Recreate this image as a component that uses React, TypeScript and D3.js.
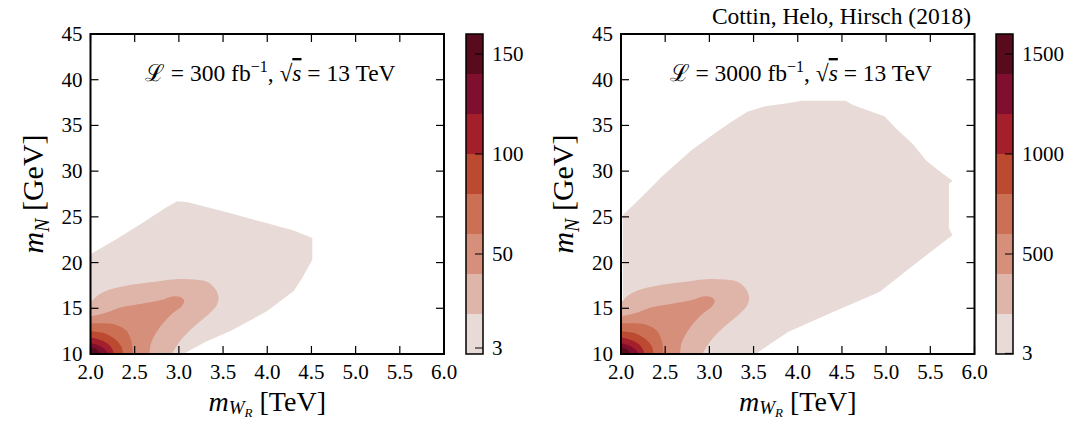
import React from 'react';
import * as d3 from 'd3';

const W = 1069;
const H = 422;

const xTicks = [2.0, 2.5, 3.0, 3.5, 4.0, 4.5, 5.0, 5.5, 6.0];
const yTicks = [10, 15, 20, 25, 30, 35, 40, 45];

// filled contour colours, lowest band first
const bandColors = ['#e8dbd7', '#dfb5a9', '#d68f7b', '#cb7054', '#bb4a31', '#a21f2b', '#800e2e', '#570b1d'];
const levelsLow = [0, 20, 40, 60, 80, 100, 120, 140, 160];
const levelsHigh = [0, 200, 400, 600, 800, 1000, 1200, 1400, 1600];
const cbarTicksLow = [3, 50, 100, 150];
const cbarTicksHigh = [3, 500, 1000, 1500];

type Pt = [number, number]; // [m_WR in TeV, m_N in GeV]

// outermost band, traced clockwise from the left axis
const outerLow: Pt[] = [
  [2.0, 20.9], [2.3, 22.6], [2.6, 24.4], [2.85, 26.0], [2.98, 26.7], [3.1, 26.6],
  [3.5, 25.6], [4.0, 24.3], [4.3, 23.5], [4.51, 22.7], [4.51, 20.3], [4.4, 18.4],
  [4.3, 16.9], [4.0, 14.7], [3.6, 12.6], [3.3, 11.3], [3.05, 10.0], [2.0, 10.0],
];
const outerHigh: Pt[] = [
  [2.02, 15.0], [2.02, 25.2], [2.12, 26.1], [2.35, 28.3], [2.46, 29.4], [2.8, 32.3],
  [3.07, 34.2], [3.25, 35.4], [3.43, 36.5], [3.63, 37.1], [3.86, 37.4], [4.05, 37.7],
  [4.54, 37.7], [4.63, 37.2], [4.98, 36.0], [5.13, 34.5], [5.3, 33.0], [5.45, 31.2],
  [5.59, 30.1], [5.75, 28.95], [5.71, 28.6], [5.71, 23.8], [5.75, 23.0], [5.24, 19.2],
  [4.93, 16.8], [4.4, 14.6], [3.89, 12.4], [3.52, 10.0], [2.0, 10.0], [2.0, 15.0],
];

// inner bands (same shape in both panels), from the left axis round to the bottom axis
const band2: Pt[] = [
  [2.0, 15.6], [2.08, 16.4], [2.2, 17.0], [2.42, 17.5], [2.73, 17.9], [2.99, 18.2],
  [3.18, 18.15], [3.33, 17.85], [3.42, 17.0], [3.45, 16.1], [3.42, 15.2], [3.33, 14.3],
  [3.16, 12.9], [3.02, 11.5], [2.92, 10.0],
];
const band3: Pt[] = [
  [2.0, 14.1], [2.2, 14.6], [2.35, 15.1], [2.58, 15.5], [2.8, 15.9], [2.93, 16.3],
  [3.01, 16.25], [3.06, 15.85], [3.03, 15.2], [2.93, 14.45], [2.82, 13.35], [2.73, 12.1],
  [2.68, 11.0], [2.67, 10.0],
];
const band4: Pt[] = [
  [2.0, 13.35], [2.16, 13.35], [2.3, 13.15], [2.4, 12.6], [2.45, 11.8], [2.47, 10.9], [2.48, 10.0],
];
const band5: Pt[] = [
  [2.0, 12.5], [2.15, 12.3], [2.28, 11.6], [2.35, 10.8], [2.37, 10.0],
];
const band6: Pt[] = [
  [2.0, 11.8], [2.12, 11.5], [2.22, 10.9], [2.27, 10.0],
];
const band7: Pt[] = [
  [2.0, 11.2], [2.1, 10.9], [2.17, 10.4], [2.2, 10.0],
];
const band8: Pt[] = [
  [2.0, 10.7], [2.07, 10.5], [2.11, 10.0],
];
const innerBands = [band2, band3, band4, band5, band6, band7, band8];

const FONT = "'Liberation Serif', 'DejaVu Serif', serif";

const plotTop = 34;
const plotBottom = 354;
const plotW = 353.5;

type PanelProps = {
  x0: number;
  cbarX: number;
  outer: Pt[];
  levels: number[];
  cbarTicks: number[];
  lumi: string;
  id: string;
};

const Panel = ({ x0, cbarX, outer, levels, cbarTicks, lumi, id }: PanelProps) => {
  const x = d3.scaleLinear().domain([2, 6]).range([x0, x0 + plotW]);
  const y = d3.scaleLinear().domain([10, 45]).range([plotBottom, plotTop]);
  const cy = d3.scaleLinear().domain([levels[0], levels[levels.length - 1]]).range([plotBottom, plotTop]);

  const outerLine = d3.line<Pt>().x(d => x(d[0])).y(d => y(d[1])).curve(d3.curveLinear);
  const innerLine = d3.line<Pt>().x(d => x(d[0])).y(d => y(d[1])).curve(d3.curveCatmullRom.alpha(0.5));
  const innerPath = (pts: Pt[]) => innerLine(pts) + `L${x(2)},${y(10)}Z`;

  const tick = 8;
  const cx = x0 + plotW / 2;

  return (
    <g>
      <defs>
        <clipPath id={id}>
          <rect x={x(2)} y={y(45)} width={plotW} height={plotBottom - plotTop} />
        </clipPath>
      </defs>
      <g clipPath={`url(#${id})`}>
        <path d={outerLine(outer) + 'Z'} fill={bandColors[0]} />
        {innerBands.map((b, i) => (
          <path key={i} d={innerPath(b)} fill={bandColors[i + 1]} />
        ))}
      </g>

      {/* ticks, inside on all four sides */}
      {xTicks.map(t => (
        <g key={'x' + t}>
          <line x1={x(t)} x2={x(t)} y1={plotBottom} y2={plotBottom - tick} stroke="#000" strokeWidth={1.2} />
          <line x1={x(t)} x2={x(t)} y1={plotTop} y2={plotTop + tick} stroke="#000" strokeWidth={1.2} />
          <text x={x(t)} y={379} textAnchor="middle" fontSize={21} fontFamily={FONT}>{t.toFixed(1)}</text>
        </g>
      ))}
      {yTicks.map(t => (
        <g key={'y' + t}>
          <line x1={x(2)} x2={x(2) + tick} y1={y(t)} y2={y(t)} stroke="#000" strokeWidth={1.2} />
          <line x1={x(6)} x2={x(6) - tick} y1={y(t)} y2={y(t)} stroke="#000" strokeWidth={1.2} />
          <text x={x(2) - 8} y={y(t) + 7} textAnchor="end" fontSize={21} fontFamily={FONT}>{t}</text>
        </g>
      ))}
      <rect x={x(2)} y={plotTop} width={plotW} height={plotBottom - plotTop} fill="none" stroke="#000" strokeWidth={2} />

      <text x={cx + 3} y={81} textAnchor="middle" fontSize={23.5} fontFamily={FONT}>
        <tspan>ℒ</tspan>
        <tspan> = {lumi} fb</tspan>
        <tspan dy={-9} fontSize={16}>−1</tspan>
        <tspan dy={9}>, √</tspan>
        <tspan fontStyle="italic" textDecoration="overline">s</tspan>
        <tspan> = 13 TeV</tspan>
      </text>

      <text x={cx} y={411} textAnchor="middle" fontSize={28} fontFamily={FONT}>
        <tspan fontStyle="italic">m</tspan>
        <tspan dy={3} fontSize={19} fontStyle="italic">W</tspan>
        <tspan dy={3} fontSize={13} fontStyle="italic">R</tspan>
        <tspan dy={-6}> [TeV]</tspan>
      </text>
      <text transform={`translate(${x0 - 48},${(plotTop + plotBottom) / 2}) rotate(-90)`} textAnchor="middle" fontSize={30} fontFamily={FONT}>
        <tspan fontStyle="italic">m</tspan>
        <tspan dy={6} fontSize={20} fontStyle="italic">N</tspan>
        <tspan dy={-6}> [GeV]</tspan>
      </text>

      {/* colour bar */}
      {bandColors.map((c, i) => (
        <rect key={c} x={cbarX} width={17} y={cy(levels[i + 1])} height={cy(levels[i]) - cy(levels[i + 1])} fill={c} />
      ))}
      {cbarTicks.map(t => (
        <g key={'c' + t}>
          <line x1={cbarX + 17} x2={cbarX + 9} y1={cy(t)} y2={cy(t)} stroke="#000" strokeWidth={1} />
          <text x={cbarX + 26} y={cy(t) + 7} fontSize={21} fontFamily={FONT}>{t}</text>
        </g>
      ))}
      <rect x={cbarX} y={plotTop} width={17} height={plotBottom - plotTop} fill="none" stroke="#000" strokeWidth={1.5} />
    </g>
  );
};

export default function App() {
  return (
    <svg width={W} height={H} style={{ position: 'absolute', left: 0, top: 0, background: '#fff' }}>
      <rect width={W} height={H} fill="#fff" />
      <Panel x0={90.5} cbarX={466} outer={outerLow} levels={levelsLow} cbarTicks={cbarTicksLow} lumi="300" id="clipL" />
      <Panel x0={621} cbarX={996} outer={outerHigh} levels={levelsHigh} cbarTicks={cbarTicksHigh} lumi="3000" id="clipR" />
      <text x={971} y={24} textAnchor="end" fontSize={23.5} fontFamily={FONT}>Cottin, Helo, Hirsch (2018)</text>
    </svg>
  );
}
